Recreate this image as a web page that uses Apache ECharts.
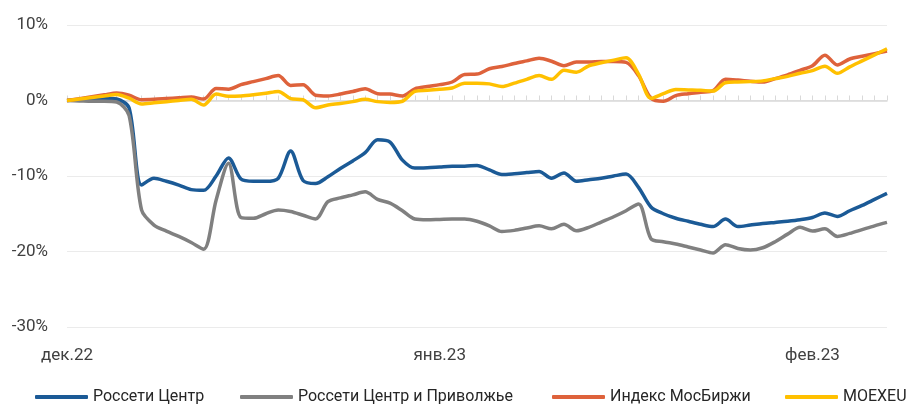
<!DOCTYPE html>
<html>
<head>
<meta charset="utf-8">
<script src="https://cdn.jsdelivr.net/npm/echarts@6/dist/echarts.min.js"></script>
<style>
html,body{margin:0;padding:0;background:#fff;}
#chart{width:910px;height:408px;}
</style>
</head>
<body>
<div id="chart"></div>
<script>
const categories = [
 '2022-12-03','2022-12-04','2022-12-05','2022-12-06','2022-12-07','2022-12-08','2022-12-09','2022-12-10','2022-12-11','2022-12-12',
 '2022-12-13','2022-12-14','2022-12-15','2022-12-16','2022-12-17','2022-12-18','2022-12-19','2022-12-20','2022-12-21','2022-12-22',
 '2022-12-23','2022-12-24','2022-12-25','2022-12-26','2022-12-27','2022-12-28','2022-12-29','2022-12-30','2022-12-31','2023-01-01',
 '2023-01-02','2023-01-03','2023-01-04','2023-01-05','2023-01-06','2023-01-07','2023-01-08','2023-01-09','2023-01-10','2023-01-11',
 '2023-01-12','2023-01-13','2023-01-14','2023-01-15','2023-01-16','2023-01-17','2023-01-18','2023-01-19','2023-01-20','2023-01-21',
 '2023-01-22','2023-01-23','2023-01-24','2023-01-25','2023-01-26','2023-01-27','2023-01-28','2023-01-29','2023-01-30','2023-01-31',
 '2023-02-01','2023-02-02','2023-02-03','2023-02-04','2023-02-05','2023-02-06','2023-02-07'
];
const monthNames = ['янв','фев','мар','апр','май','июн','июл','авг','сен','окт','ноя','дек'];
const seriesNames = ['Россети Центр','Россети Центр и Приволжье','Индекс МосБиржи','MOEXEU'];

const rosCentr = [
 0, 0.1, 0.2, 0.3, 0.2, -1.0, -11.2, -10.3, -10.7, -11.2,
 -11.8, -11.9, -10.0, -7.6, -10.4, -10.7, -10.7, -10.3, -6.7, -10.6,
 -11.0, -10.1, -9.0, -8.0, -6.9, -5.2, -5.5, -7.9, -8.95, -8.9,
 -8.8, -8.7, -8.7, -8.6, -9.2, -9.8, -9.7, -9.55, -9.4, -10.3,
 -9.6, -10.7, -10.5, -10.3, -10.0, -9.75, -11.5, -14.1, -15.0, -15.6,
 -16.0, -16.4, -16.7, -15.7, -16.7, -16.5, -16.3, -16.15, -16.0, -15.8,
 -15.5, -14.9, -15.35, -14.6, -13.9, -13.1, -12.3
];
const rosCentrPriv = [
 0, -0.05, -0.1, -0.1, -0.2, -2.0, -14.5, -16.5, -17.3, -18.0,
 -18.8, -19.7, -13.2, -8.3, -15.5, -15.6, -15.0, -14.5, -14.7, -15.2,
 -15.7, -13.4, -12.9, -12.5, -12.1, -13.1, -13.6, -14.6, -15.7, -15.8,
 -15.75, -15.7, -15.7, -16.0, -16.6, -17.35, -17.2, -16.9, -16.6, -17.0,
 -16.4, -17.25, -16.8, -16.1, -15.4, -14.6, -13.7, -18.3, -18.7, -19.0,
 -19.4, -19.8, -20.2, -19.1, -19.6, -19.8, -19.5, -18.7, -17.7, -16.8,
 -17.3, -17.0, -18.0, -17.6, -17.1, -16.6, -16.15
];
const imoex = [
 0, 0.25, 0.5, 0.75, 1.0, 0.7, 0.1, 0.15, 0.25, 0.35,
 0.45, 0.2, 1.6, 1.5, 2.1, 2.5, 2.9, 3.3, 2.0, 2.1,
 0.7, 0.6, 0.85, 1.2, 1.55, 0.9, 0.85, 0.6, 1.55, 1.85,
 2.1, 2.45, 3.45, 3.5, 4.2, 4.5, 4.9, 5.25, 5.6, 5.2,
 4.6, 5.1, 5.1, 5.15, 5.15, 5.05, 3.3, 0.3, -0.1, 0.65,
 0.9, 1.1, 1.3, 2.8, 2.7, 2.55, 2.45, 2.9, 3.4, 4.0,
 4.6, 6.0, 4.7, 5.5, 5.85, 6.2, 6.55
];
const moexeu = [
 0, 0.2, 0.4, 0.6, 0.8, 0.3, -0.45, -0.3, -0.15, 0.0,
 0.15, -0.6, 0.85, 0.55, 0.6, 0.75, 0.95, 1.2, 0.25, 0.1,
 -0.95, -0.6, -0.4, -0.15, 0.15, -0.15, -0.25, -0.1, 1.2, 1.35,
 1.5, 1.65, 2.3, 2.3, 2.2, 1.85, 2.3, 2.8, 3.3, 2.8,
 4.0, 3.75, 4.6, 5.0, 5.35, 5.65, 3.5, 0.3, 0.9, 1.45,
 1.4, 1.35, 1.25, 2.35, 2.45, 2.5, 2.6, 2.9, 3.2, 3.6,
 3.95, 4.55, 3.6, 4.45, 5.25, 6.05, 6.85
];
const colors = ['#1B5A96', '#808080', '#DE623B', '#FFC000'];
const FONT = 'Roboto, "Liberation Sans", sans-serif';

const chart = echarts.init(document.getElementById('chart'), null, {renderer: 'canvas'});
const dataSets = [rosCentr, rosCentrPriv, imoex, moexeu];
const legendLefts = [35, 240, 552, 785];

const option = {
  animation: false,
  backgroundColor: '#ffffff',
  textStyle: {fontFamily: FONT},
  grid: {left: 67, right: 23, top: 25, bottom: 81, containLabel: false},
  legend: seriesNames.map((n, i) => ({
    data: [n],
    left: legendLefts[i],
    top: 389,
    padding: 0,
    icon: 'roundRect',
    itemWidth: 53,
    itemHeight: 4,
    itemGap: 5,
    textStyle: {fontFamily: FONT, fontSize: 16, color: '#262626', padding: [0, 0, 0, 0]},
    selectedMode: false
  })),
  xAxis: [
    {
      type: 'category',
      data: categories,
      boundaryGap: false,
      axisLine: {show: false, onZero: false},
      axisTick: {show: false},
      splitLine: {show: false},
      axisLabel: {
        interval: 29,
        margin: 20,
        fontFamily: FONT,
        fontSize: 17,
        color: '#404040',
        formatter: function (v) {
          const p = v.split('-');
          return monthNames[parseInt(p[1], 10) - 1] + '.' + p[0].slice(2);
        }
      }
    },
    {
      type: 'value',
      min: 0,
      max: 66,
      interval: 1,
      axisLine: {show: true, onZero: true, onZeroAxisIndex: 0, lineStyle: {color: '#d9d9d9', width: 1.5}},
      axisTick: {show: true, length: 5, lineStyle: {color: '#d9d9d9', width: 1}},
      axisLabel: {show: false},
      splitLine: {show: false}
    }
  ],
  yAxis: {
    type: 'value',
    min: -30,
    max: 10,
    interval: 10,
    axisLine: {show: false},
    axisTick: {show: false},
    axisLabel: {
      margin: 19,
      fontFamily: FONT,
      fontSize: 17,
      color: '#404040',
      formatter: '{value}%'
    },
    splitLine: {lineStyle: {color: '#ebebeb', width: 1}}
  },
  series: seriesNames.map((n, i) => ({
    name: n,
    type: 'line',
    xAxisIndex: 0,
    data: dataSets[i],
    smooth: 0.3,
    showSymbol: false,
    symbol: 'none',
    lineStyle: {color: colors[i], width: 3.5},
    itemStyle: {color: colors[i]}
  }))
};
chart.setOption(option);
</script>
</body>
</html>
